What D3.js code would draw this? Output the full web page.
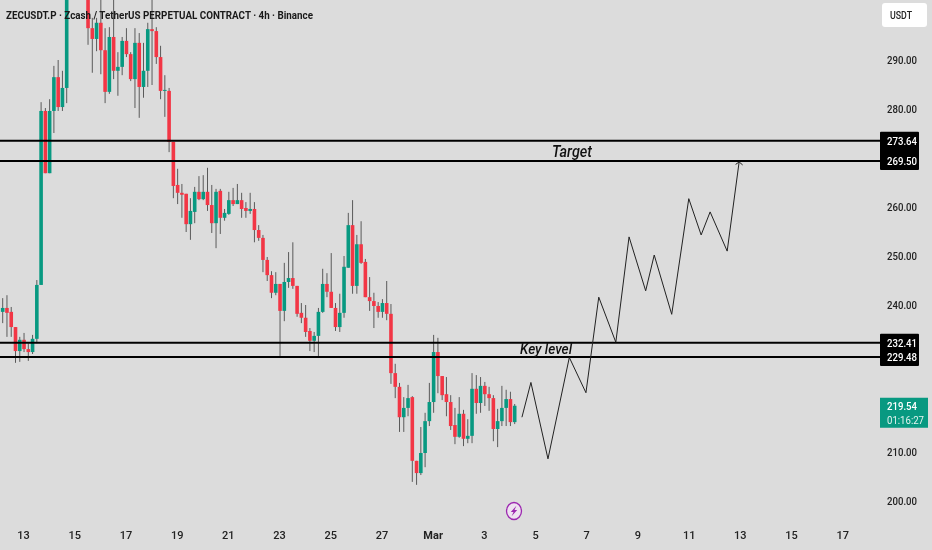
<!DOCTYPE html>
<html>
<head>
<meta charset="utf-8">
<script src="https://cdn.jsdelivr.net/npm/d3@7"></script>
<style>
  html, body { margin: 0; padding: 0; background: #dcdcdc; }
  svg { display: block; filter: blur(0.35px); }
  text { font-family: Roboto, "Liberation Sans", sans-serif; }
</style>
</head>
<body>
<div id="chart"></div>
<script>
const chartTitle = "ZECUSDT.P · Zcash / TetherUS PERPETUAL CONTRACT · 4h · Binance";

// 4h candles: open, high, low, close
const candles = [
  [238.7,241.5,236.4,239.5],[239.5,242.1,233.6,238.5],[238.7,239.7,233.6,235.6],[235.6,235.6,228.3,230.7],
  [230.7,233.6,228.5,233.0],[233.0,234.4,230.5,231.1],[231.1,232.3,228.7,230.5],[230.5,234.0,230.1,233.2],
  [233.2,245.2,232.3,244.2],[244.2,281.5,244.2,279.7],[279.7,280.3,267.0,267.0],[267.0,282.1,267.0,279.7],
  [279.7,288.9,275.2,286.6],[286.6,290.1,279.7,280.5],[280.5,287.9,279.7,284.4],[284.4,308.0,281.3,305.0],
  // these four sit above the top edge of the picture
  [305.0,309.0,303.0,308.0],[308.0,312.0,305.0,310.0],[310.0,313.0,306.0,307.0],[307.0,311.0,304.0,305.5],
  [305.0,308.0,293.2,296.6],[296.6,298.7,287.5,294.4],[294.4,298.7,291.9,297.7],[297.7,304.0,287.2,292.1],
  [292.1,296.6,281.3,283.6],[283.6,296.8,283.2,294.8],[294.8,304.0,286.2,287.9],[287.9,291.7,282.8,288.7],
  [288.7,294.8,287.0,294.0],[294.0,296.6,290.7,291.3],[291.3,291.7,285.8,286.2],[286.2,296.6,280.3,293.6],
  [293.6,295.6,278.3,284.6],[284.6,293.6,282.4,287.9],[287.9,297.7,284.6,296.4],[296.4,304.0,285.0,296.0],
  [296.0,296.8,289.3,290.7],[290.7,293.0,282.1,283.8],[283.8,287.0,278.5,284.0],[283.8,284.4,271.3,273.4],
  [273.4,273.4,261.9,264.4],[264.6,267.9,260.7,263.0],[263.0,264.8,257.9,262.6],[262.8,262.8,255.0,256.6],
  [256.6,261.9,253.4,259.3],[259.1,264.2,256.8,263.2],[263.2,266.4,261.5,261.7],[261.7,266.6,261.5,263.2],
  [263.2,268.1,259.3,260.5],[260.5,264.6,254.8,256.8],[256.8,263.8,251.7,263.2],[263.4,263.8,254.6,257.9],
  [257.9,259.7,257.3,258.9],[258.7,263.2,258.5,261.5],[261.5,264.0,260.3,260.7],[260.7,264.8,260.7,261.5],
  [261.5,263.0,257.9,259.7],[259.9,261.1,257.9,259.3],[259.3,263.0,258.7,259.7],[259.7,261.1,252.9,255.4],
  [255.4,256.4,253.2,253.8],[253.8,254.4,246.8,249.3],[249.3,249.9,245.0,246.2],[246.2,247.0,241.5,242.6],
  [242.6,246.8,242.1,244.4],[244.4,244.4,229.7,238.9],[238.9,248.7,236.8,244.8],[244.8,250.9,243.6,245.6],
  [245.6,252.9,243.4,244.0],[244.0,244.0,237.7,238.3],[238.5,240.5,236.4,237.5],[237.5,240.1,233.6,234.6],
  [234.8,235.4,230.7,232.8],[232.8,234.6,230.5,233.8],[233.8,239.5,229.7,238.7],[238.7,247.5,238.5,244.4],
  [244.4,246.6,241.7,242.8],[242.8,250.7,239.5,239.5],[239.5,240.5,234.8,235.6],[235.6,242.4,234.6,238.5],
  [238.5,250.1,237.5,247.9],[247.7,258.9,247.7,256.4],[256.4,261.5,242.4,244.0],[244.0,254.4,242.4,252.5],
  [252.5,257.2,248.5,248.7],[248.9,249.5,241.7,241.7],[241.7,245.8,238.9,240.9],[240.9,242.6,235.4,239.9],
  [239.9,240.7,237.5,238.7],[238.7,241.3,237.5,240.5],[240.5,245.0,237.0,238.3],[238.3,240.3,224.0,226.2],
  [226.2,228.1,221.1,223.4],[223.4,224.2,214.2,217.2],[217.2,221.3,214.2,219.1],[219.1,223.8,217.4,221.1],
  [221.3,221.5,204.0,208.3],[208.3,208.3,203.4,205.8],[205.8,215.2,205.4,209.9],[209.9,218.1,207.0,216.4],
  [216.4,224.2,215.4,220.3],[220.3,234.0,218.1,230.5],[230.5,233.4,222.1,225.6],[225.6,225.6,220.7,221.7],
  [221.9,225.4,217.4,220.3],[220.3,221.7,214.6,215.4],[215.6,219.1,211.7,213.2],[213.2,221.3,213.0,217.9],
  [217.9,218.7,211.3,212.8],[212.8,216.8,211.9,213.4],[213.4,226.2,211.9,223.0],[223.0,225.8,217.9,220.1],
  [220.1,225.4,218.1,223.6],[223.6,224.4,219.5,221.9],[221.9,223.4,218.5,221.1],[221.1,221.7,212.3,214.8],
  [214.8,218.9,211.1,216.4],[216.4,223.6,215.4,219.1],[219.1,222.8,215.4,220.9],[220.9,222.4,215.4,216.2],
  [216.2,219.9,215.8,219.54]
];

const firstBar = new Date(Date.UTC(2026, 1, 12, 4));
const barHours = 4;

// 220, 230 and 270 are hidden behind the price tags in the picture
const priceTicks = [200, 210, 240, 250, 260, 280, 290];
const dateTicks = [
  Date.UTC(2026,1,13), Date.UTC(2026,1,15), Date.UTC(2026,1,17), Date.UTC(2026,1,19), Date.UTC(2026,1,21),
  Date.UTC(2026,1,23), Date.UTC(2026,1,25), Date.UTC(2026,1,27), Date.UTC(2026,2,1), Date.UTC(2026,2,3),
  Date.UTC(2026,2,5), Date.UTC(2026,2,7), Date.UTC(2026,2,9), Date.UTC(2026,2,11), Date.UTC(2026,2,13),
  Date.UTC(2026,2,15), Date.UTC(2026,2,17)
].map(d => new Date(d));
const dateLabels = ["13","15","17","19","21","23","25","27","Mar","3","5","7","9","11","13","15","17"];

const levels = [273.64, 269.50, 232.41, 229.48];
const lastPrice = 219.54;
const countdown = "01:16:27";

// hand drawn projection: position in bars from the first candle, and price
const pathBars = [121.7,123.8,127.8,132.8,136.7,139.7,143.7,146.8,150.7,152.7,156.8,160.8,163.7,165.8,169.8,172.6];
const pathPrices = [217.2,224.3,208.7,229.4,222.2,241.7,232.5,254.0,243.0,250.3,238.2,261.8,254.4,259.1,251.1,269.3];

const width = 932, height = 550;
const upColor = "#089981", downColor = "#f23645", wickColor = "#5a5a5a";

const barDate = i => new Date(firstBar.getTime() + i * barHours * 3600000);

const x = d3.scaleTime()
  .domain([barDate(0), barDate(120)])
  .range([2.7, 514.7]);
const y = d3.scaleLinear()
  .domain([200, 290])
  .range([501.5, 60.5]);

const svg = d3.select("#chart").append("svg")
  .attr("width", width)
  .attr("height", height);

svg.append("rect").attr("width", width).attr("height", height).attr("fill", "#dcdcdc");

// Candles
const candle = svg.append("g").selectAll("g")
  .data(candles)
  .join("g");

candle.append("line")
  .attr("x1", (d, i) => x(barDate(i)))
  .attr("x2", (d, i) => x(barDate(i)))
  .attr("y1", d => y(d[1]))
  .attr("y2", d => y(d[2]))
  .attr("stroke", wickColor)
  .attr("stroke-width", 1);

candle.append("rect")
  .attr("x", (d, i) => x(barDate(i)) - 1.8)
  .attr("width", 3.6)
  .attr("y", d => y(Math.max(d[0], d[3])))
  .attr("height", d => Math.max(1, Math.abs(y(d[0]) - y(d[3]))))
  .attr("fill", d => d[3] >= d[0] ? upColor : downColor);

// Horizontal levels
svg.append("g").selectAll("line")
  .data(levels)
  .join("line")
    .attr("x1", 0)
    .attr("x2", 880)
    .attr("y1", d => y(d))
    .attr("y2", d => y(d))
    .attr("stroke", "#000")
    .attr("stroke-width", 2);

// Projection line
const line = d3.line()
  .x(d => x(barDate(d[0])))
  .y(d => y(d[1]));

svg.append("path")
  .datum(d3.zip(pathBars, pathPrices))
  .attr("fill", "none")
  .attr("stroke", "#222")
  .attr("stroke-width", 1)
  .attr("d", line);

// Arrow head on the last point
const tipX = x(barDate(pathBars[pathBars.length - 1]));
const tipY = y(pathPrices[pathPrices.length - 1]);
svg.append("path")
  .attr("fill", "none")
  .attr("stroke", "#222")
  .attr("d", `M${tipX - 3.5},${tipY + 2.5}L${tipX},${tipY}L${tipX + 3.5},${tipY + 3}`);

// Notes
svg.append("text")
  .attr("x", 552).attr("y", 157)
  .attr("font-size", 17).attr("font-style", "italic").attr("font-weight", 500).attr("fill", "#111")
  .attr("textLength", 40).attr("lengthAdjust", "spacingAndGlyphs")
  .text("Target");
svg.append("text")
  .attr("x", 520).attr("y", 354)
  .attr("font-size", 15).attr("font-style", "italic").attr("font-weight", 500).attr("fill", "#111")
  .attr("textLength", 52).attr("lengthAdjust", "spacingAndGlyphs")
  .text("Key level");

// Price axis
const yAxis = d3.axisRight(y)
  .tickValues(priceTicks)
  .tickSize(0)
  .tickPadding(0)
  .tickFormat(d3.format(".2f"));

const yAxisG = svg.append("g")
  .attr("transform", "translate(887,-0.5)")
  .call(yAxis);
yAxisG.select(".domain").remove();
yAxisG.selectAll("text")
  .attr("font-size", 11)
  .attr("font-weight", 500)
  .attr("fill", "#222")
  .attr("textLength", 30)
  .attr("lengthAdjust", "spacingAndGlyphs")
  .style("font-family", null);

// Date axis
const xAxis = d3.axisBottom(x)
  .tickValues(dateTicks)
  .tickSize(0)
  .tickPadding(0)
  .tickFormat((d, i) => dateLabels[i]);

const xAxisG = svg.append("g")
  .attr("transform", "translate(-1,531.5)")
  .call(xAxis);
xAxisG.select(".domain").remove();
xAxisG.selectAll("text")
  .attr("font-size", 11)
  .attr("font-weight", (d, i) => dateLabels[i] === "Mar" ? "bold" : "500")
  .attr("fill", "#222")
  .style("font-family", null);

// Price labels
svg.append("g").selectAll("rect")
  .data([[273.64, 269.50], [232.41, 229.48]])
  .join("rect")
    .attr("x", 880)
    .attr("width", 39)
    .attr("y", d => y(d[0]) - 9)
    .attr("height", d => y(d[1]) - y(d[0]) + 18)
    .attr("rx", 1)
    .attr("fill", "#000");

svg.append("g").selectAll("text")
  .data(levels)
  .join("text")
    .attr("x", 887)
    .attr("y", d => y(d) + 4)
    .attr("font-size", 11)
    .attr("font-weight", 500)
    .attr("fill", "#fff")
    .attr("textLength", 30)
    .attr("lengthAdjust", "spacingAndGlyphs")
    .text(d => d.toFixed(2));

// Last price tag
svg.append("rect")
  .attr("x", 880).attr("y", y(lastPrice) - 8)
  .attr("width", 48).attr("height", 30)
  .attr("fill", upColor);
svg.append("text")
  .attr("x", 887).attr("y", y(lastPrice) + 4)
  .attr("font-size", 11).attr("font-weight", 500).attr("fill", "#fff")
  .attr("textLength", 30).attr("lengthAdjust", "spacingAndGlyphs")
  .text(lastPrice.toFixed(2));
svg.append("text")
  .attr("x", 887).attr("y", y(lastPrice) + 18)
  .attr("font-size", 11).attr("fill", "#e4f4f0")
  .attr("textLength", 37).attr("lengthAdjust", "spacingAndGlyphs")
  .text(countdown);

// Currency button
svg.append("rect")
  .attr("x", 882).attr("y", 3)
  .attr("width", 45).attr("height", 24)
  .attr("rx", 3)
  .attr("fill", "#fff");
svg.append("text")
  .attr("x", 890).attr("y", 19)
  .attr("font-size", 10.5).attr("font-weight", 500).attr("fill", "#222")
  .attr("textLength", 22).attr("lengthAdjust", "spacingAndGlyphs")
  .text("USDT");

// Title
svg.append("text")
  .attr("x", 6).attr("y", 19)
  .attr("font-size", 11.5).attr("font-weight", "bold").attr("fill", "#1a1a1a")
  .attr("textLength", 307).attr("lengthAdjust", "spacingAndGlyphs")
  .text(chartTitle);

// Lightning badge
const badge = svg.append("g").attr("transform", "translate(514,511)");
badge.append("ellipse")
  .attr("rx", 7.5).attr("ry", 8.5)
  .attr("fill", "#eee2f0")
  .attr("stroke", "#9c27b0")
  .attr("stroke-width", 1.3);
badge.append("path")
  .attr("d", "M2.4,-5.2L-3.2,1H-0.5L-2.4,5.2L3.2,-1H0.5Z")
  .attr("fill", "#9c27b0");
</script>
</body>
</html>
